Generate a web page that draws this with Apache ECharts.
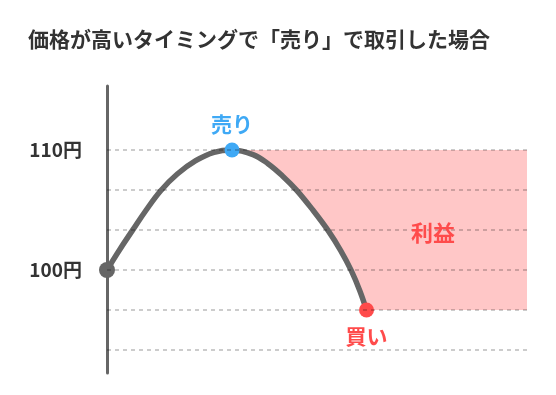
<!DOCTYPE html>
<html><head><meta charset="utf-8">
<script src="https://cdn.jsdelivr.net/npm/echarts@6/dist/echarts.min.js"></script>
<style>html,body{margin:0;padding:0;background:#fff}#c{width:556px;height:395px}</style>
</head><body><div id="c"></div>
<script>
// price path (x: time units, y: yen)
const curveX = [0, 1.2, 2.53, 3.87, 5.37, 7.03, 8.87, 10.7, 12.5, 14.6, 16.1, 17.6, 18.93, 20.6, 22.1, 23.37, 24.43, 25.27, 25.95];
const curveY = [100, 101.61, 103.28, 104.94, 106.61, 108.0, 109.11, 109.81, 110, 109.62, 108.86, 107.8, 106.68, 104.98, 103.3, 101.62, 99.95, 98.3, 96.67];
const sellIndex = 8;   // 売り
const buyIndex = 18;   // 買い
const gridLevels = [110, 106.667, 103.333, 100, 96.667, 93.333];
const tickLabels = [100, 110];
const title = '価格が高いタイミングで「売り」で取引した場合';
const xEnd = 42;

const FONT = '"Noto Sans CJK JP", "Noto Sans", sans-serif';
const BLUE = '#3fa9f5', RED = '#ff4b4b', PINK = '#ffc7c7', GRAY = '#666666';

const curve = curveX.map((x, i) => [x, curveY[i]]);
const profitCurve = curve.slice(sellIndex);
const sellPrice = curveY[sellIndex], buyPrice = curveY[buyIndex];

const chart = echarts.init(document.getElementById('c'), null, {renderer: 'canvas'});
chart.setOption({
  animation: false,
  backgroundColor: '#fff',
  textStyle: {fontFamily: FONT},
  title: {
    text: title, left: 28, top: 29, padding: 0,
    textStyle: {fontFamily: FONT, fontSize: 21, fontWeight: 'bold', color: '#333'}
  },
  grid: {left: 107, right: 29, top: 86, bottom: 22, containLabel: false},
  xAxis: {type: 'value', min: 0, max: xEnd, show: false},
  yAxis: {
    type: 'value', min: 91.417, max: 115.333,
    axisLine: {show: true, lineStyle: {color: GRAY, width: 3}},
    axisTick: {show: false},
    splitLine: {show: false},
    axisLabel: {
      customValues: tickLabels, margin: 25,
      formatter: v => Math.round(v) + '円',
      fontFamily: FONT, fontSize: 19, fontWeight: 600, color: '#333'
    }
  },
  series: [
    {
      type: 'line', data: profitCurve, smooth: 0.4, symbol: 'none',
      lineStyle: {width: 0, opacity: 0},
      areaStyle: {color: PINK, opacity: 1, origin: sellPrice},
      z: 1, silent: true,
      markArea: {
        silent: true,
        itemStyle: {color: PINK, opacity: 1, borderWidth: 0},
        data: [[{coord: [curveX[buyIndex] - 0.4, sellPrice]}, {coord: [xEnd, buyPrice]}]]
      },
      markPoint: {
        silent: true, symbol: 'circle', symbolSize: 0,
        label: {show: true, position: 'inside', formatter: '利益', fontFamily: FONT, fontSize: 22, fontWeight: 'bold', color: RED},
        data: [{coord: [32.6, 103.1]}]
      }
    },
    {
      type: 'line', data: [], z: 2, silent: true,
      markLine: {
        silent: true, symbol: 'none', animation: false,
        label: {show: false},
        lineStyle: {type: [4, 4], color: 'rgba(0,0,0,0.2)', width: 2},
        data: gridLevels.map(v => ({yAxis: v}))
      }
    },
    {
      type: 'line', z: 3, smooth: 0.4,
      lineStyle: {color: GRAY, width: 5.5},
      symbol: 'none',
      data: curve.map((p, i) => {
        if (i === 0) return {value: p, symbol: 'circle', symbolSize: 16, itemStyle: {color: GRAY}};
        if (i === sellIndex) return {value: p, symbol: 'circle', symbolSize: 15, itemStyle: {color: BLUE},
          label: {show: true, position: 'top', distance: 8, formatter: '売り', fontFamily: FONT, fontSize: 21, fontWeight: 'bold', color: BLUE}};
        if (i === buyIndex) return {value: p, symbol: 'circle', symbolSize: 15, itemStyle: {color: RED},
          label: {show: true, position: 'bottom', distance: 8, formatter: '買い', fontFamily: FONT, fontSize: 21, fontWeight: 'bold', color: RED}};
        return p;
      })
    }
  ]
});
</script></body></html>
